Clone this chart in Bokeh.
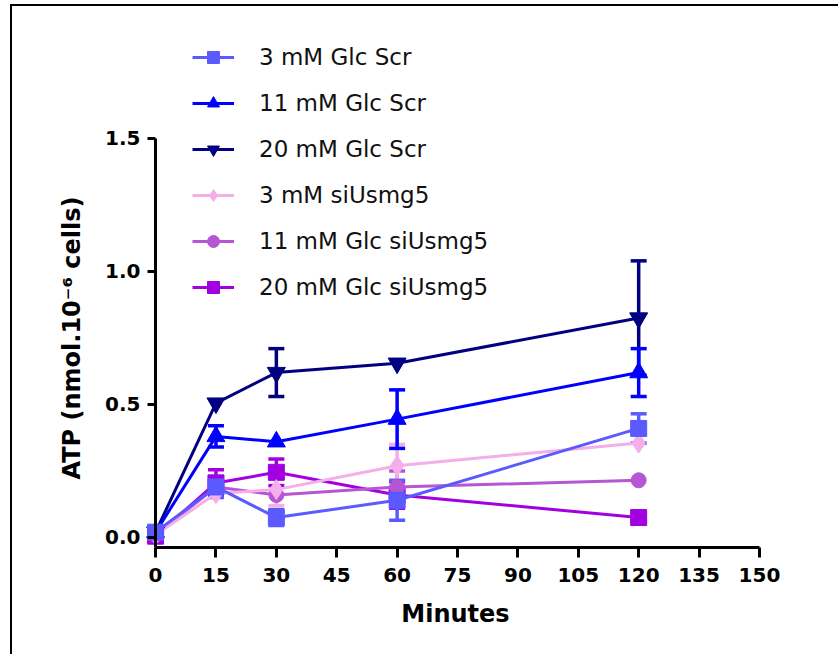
from bokeh.plotting import figure
from bokeh.models import (ColumnDataSource, Whisker, TeeHead, FixedTicker, PrintfTickFormatter,
                          Legend, LegendItem, Range1d, LinearAxis, Title)
from bokeh.embed import file_html
from bokeh.resources import INLINE

# ---- data ----
minutes = [0, 15, 30, 60, 120]
series_labels = ["3 mM Glc Scr", "11 mM Glc Scr", "20 mM Glc Scr",
                 "3 mM siUsmg5", "11 mM Glc siUsmg5", "20 mM Glc siUsmg5"]
mean_3_scr = [0.02, 0.19, 0.075, 0.14, 0.41]
err_3_scr = [0.0, 0.04, 0.03, 0.075, 0.055]
mean_11_scr = [0.02, 0.38, 0.36, 0.445, 0.62]
err_11_scr = [0.0, 0.04, 0.0, 0.11, 0.09]
mean_20_scr = [0.02, 0.505, 0.62, 0.655, 0.825]
err_20_scr = [0.0, 0.0, 0.09, 0.0, 0.215]
mean_3_si = [0.01, 0.165, 0.18, 0.27, 0.355]
err_3_si = [0.0, 0.0, 0.06, 0.08, 0.0]
mean_11_si = [0.01, 0.19, 0.16, 0.19, 0.215]
err_11_si = [0.0, 0.0, 0.0, 0.06, 0.0]
mean_20_si = [0.005, 0.205, 0.245, 0.16, 0.075]
err_20_si = [0.0, 0.05, 0.05, 0.05, 0.015]
x_ticks = [0, 15, 30, 45, 60, 75, 90, 105, 120, 135, 150]
y_ticks = [0.0, 0.5, 1.0, 1.5]
y_title = "ATP (nmol.10\u207b\u2076 cells)"

means = [mean_3_scr, mean_11_scr, mean_20_scr, mean_3_si, mean_11_si, mean_20_si]
errs = [err_3_scr, err_11_scr, err_20_scr, err_3_si, err_11_si, err_20_si]

# ---- styles ----
colors = ["#5a5aff", "#0000ff", "#000080", "#f4aee9", "#b556d4", "#a300e2"]
markers = ["square", "triangle", "inverted_triangle", "diamond", "circle", "square"]
msizes = [16, 18, 18, 20, 15, 16]
FONT = "DejaVu Sans"

p = figure(width=828, height=650, output_backend="svg", toolbar_location=None,
           x_range=Range1d(-3, 152), y_range=Range1d(-0.0865, 1.906),
           min_border_left=131, min_border_right=73, min_border_top=24, min_border_bottom=96)
p.styles = {"border-top": "2px solid black", "border-left": "2px solid black",
            "margin-left": "10px", "margin-top": "4px"}
p.outline_line_color = None
p.xgrid.visible = False
p.ygrid.visible = False

# label-only axes (in the side panels)
xa = p.xaxis[0]
xa.ticker = FixedTicker(ticks=x_ticks)
xa.axis_label = "Minutes"
ya = p.yaxis[0]
ya.ticker = FixedTicker(ticks=y_ticks)
ya.formatter = PrintfTickFormatter(format="%.1f")
for ax, lst, alst in ((xa, 7, 15), (ya, 3, 14)):
    ax.axis_line_color = None
    ax.major_tick_line_color = None
    ax.minor_tick_line_color = None
    ax.major_tick_out = 0
    ax.major_tick_in = 0
    ax.major_label_standoff = lst
    ax.axis_label_standoff = alst
    ax.major_label_text_font = FONT
    ax.major_label_text_font_style = "bold"
    ax.major_label_text_font_size = "20px"
    ax.major_label_text_color = "black"
    ax.axis_label_text_font = FONT
    ax.axis_label_text_font_style = "bold"
    ax.axis_label_text_font_size = "24px"
    ax.axis_label_text_color = "black"

# axis lines and ticks, offset Prism-style
xl = LinearAxis(fixed_location=-0.0375, bounds=(0, 150), ticker=FixedTicker(ticks=x_ticks))
yl = LinearAxis(fixed_location=0, bounds=(-0.0375, 1.5), ticker=FixedTicker(ticks=y_ticks))
for ax, tout in ((xl, 10), (yl, 8)):
    ax.axis_line_width = 3
    ax.axis_line_color = "black"
    ax.major_tick_line_width = 3
    ax.major_tick_line_color = "black"
    ax.major_tick_out = tout
    ax.major_tick_in = 0
    ax.minor_tick_line_color = None
    ax.major_label_standoff = 0
    ax.major_label_text_color = None
    ax.major_label_text_font_size = "0px"
p.add_layout(xl, "below")
p.add_layout(yl, "left")

# y axis title, centred on the drawn y axis (0 .. 1.5)
yt = Title(text=y_title, align="left", offset=81, vertical_align="bottom", standoff=34,
           text_font=FONT, text_font_style="bold", text_font_size="24px", text_color="black")
p.add_layout(yt, "left")

items = [None] * 6
for i in reversed(range(6)):
    c = colors[i]
    src = ColumnDataSource(dict(x=minutes, y=means[i]))
    ex = [m for m, e in zip(minutes, errs[i]) if e > 0]
    lo = [v - e for v, e in zip(means[i], errs[i]) if e > 0]
    hi = [v + e for v, e in zip(means[i], errs[i]) if e > 0]
    wsrc = ColumnDataSource(dict(x=ex, lower=lo, upper=hi))
    w = Whisker(base="x", lower="lower", upper="upper", source=wsrc,
                line_color=c, line_width=3.5,
                upper_head=TeeHead(size=16, line_color=c, line_width=3.5),
                lower_head=TeeHead(size=16, line_color=c, line_width=3.5))
    p.add_layout(w)
    lr = p.line("x", "y", source=src, line_color=c, line_width=3)
    mr = p.scatter("x", "y", source=src, marker=markers[i], size=msizes[i],
                   fill_color=c, line_color=c, line_width=1)
    items[i] = LegendItem(label=series_labels[i], renderers=[lr, mr])

legend = Legend(items=items, location=(49, 258), orientation="vertical")
legend.border_line_color = None
legend.background_fill_alpha = 0
legend.padding = 0
legend.margin = 0
legend.spacing = 16
legend.glyph_width = 42
legend.glyph_height = 30
legend.label_height = 30
legend.label_standoff = 25
legend.label_text_font = FONT
legend.label_text_font_size = "23px"
legend.label_text_color = "#111111"
p.add_layout(legend)

open("out.html", "w").write(file_html(p, INLINE))
